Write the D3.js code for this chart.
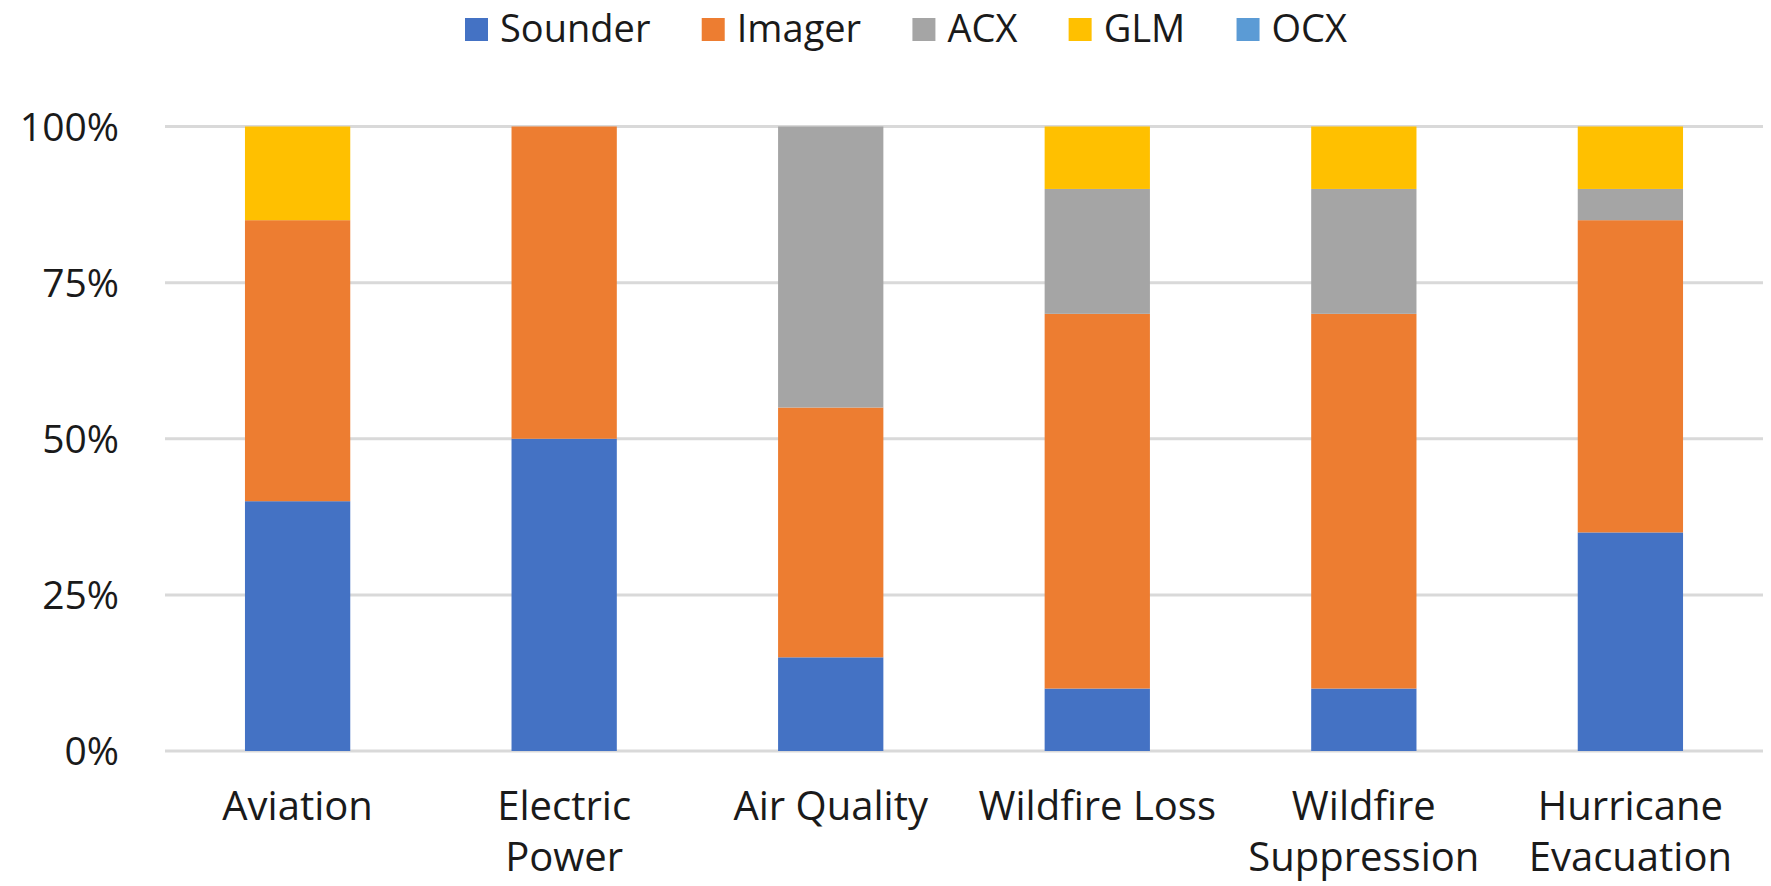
<!DOCTYPE html>
<html>
<head>
<meta charset="utf-8">
<script src="https://cdn.jsdelivr.net/npm/d3@7"></script>
<style>
  body { margin: 0; background: #fff; }
  text { font-family: "Open Sans", sans-serif; fill: #1a1a1a; }
</style>
</head>
<body>
<script>
var categories = [["Aviation"], ["Electric", "Power"], ["Air Quality"], ["Wildfire Loss"], ["Wildfire", "Suppression"], ["Hurricane", "Evacuation"]]
var seriesNames = ["Sounder", "Imager", "ACX", "GLM", "OCX"]
var colors = ["#4472C4", "#ED7D31", "#A5A5A5", "#FFC000", "#5B9BD5"]

var sounder = [40, 50, 15, 10, 10, 35]
var imager  = [45, 50, 40, 60, 60, 50]
var acx     = [0, 0, 45, 20, 20, 5]
var glm     = [15, 0, 0, 10, 10, 10]
var ocx     = [0, 0, 0, 0, 0, 0]
var yTicks = [0, 25, 50, 75, 100]

var width = 1771, height = 886
var margin = {left: 165, right: 8, top: 126.5, bottom: 135}

var svg = d3.select("body").append("svg")
  .attr('width', width)
  .attr('height', height)

var rows = categories.map(function(c, i) {
  return {key: i, Sounder: sounder[i], Imager: imager[i], ACX: acx[i], GLM: glm[i], OCX: ocx[i]}
})

var x = d3.scaleBand()
  .domain(d3.range(categories.length))
  .range([margin.left, width - margin.right])
  .paddingInner(0.605)
  .paddingOuter(0.3)

var y = d3.scaleLinear()
  .domain([0, 100])
  .range([height - margin.bottom, margin.top])

var color = d3.scaleOrdinal().domain(seriesNames).range(colors)

// gridlines
svg.append("g").selectAll("line")
  .data(yTicks)
  .enter().append("line")
  .attr('x1', margin.left)
  .attr('x2', width - margin.right)
  .attr('y1', function(d) { return y(d) })
  .attr('y2', function(d) { return y(d) })
  .attr('stroke', '#d9d9d9')
  .attr('stroke-width', 3)

// y labels
var yAxis = d3.axisLeft(y).tickValues(yTicks).tickFormat(function(d) { return d + "%" }).tickSize(0).tickPadding(0)
var yg = svg.append("g")
  .attr('transform', 'translate(119,0)')
  .call(yAxis)
yg.select(".domain").remove()
yg.selectAll("text")
  .attr('font-size', 39)
  .attr('font-family', '"Open Sans", sans-serif')
  .attr('fill', '#1a1a1a')
  .attr('dy', '0.35em')

// stacked bars
var stack = d3.stack().keys(seriesNames)
var layers = stack(rows)

svg.append("g").selectAll("g")
  .data(layers)
  .enter().append("g")
  .attr('fill', function(d) { return color(d.key) })
  .selectAll("rect")
  .data(function(d) { return d.filter(function(s) { return s[1] > s[0] }) })
  .enter().append("rect")
  .attr('x', function(d) { return x(d.data.key) })
  .attr('width', x.bandwidth())
  .attr('y', function(d) { return y(d[1]) })
  .attr('height', function(d) { return y(d[0]) - y(d[1]) })

// x labels
var xl = svg.append("g").selectAll("text")
  .data(categories)
  .enter().append("text")
  .attr('text-anchor', 'middle')
  .attr('font-size', 40)
  .attr('x', function(d, i) { return x(i) + x.bandwidth() / 2 })
  .attr('y', 820)

xl.selectAll("tspan")
  .data(function(d) { return d })
  .enter().append("tspan")
  .attr('x', function() { return d3.select(this.parentNode).attr('x') })
  .attr('dy', function(d, i) { return i === 0 ? 0 : 51 })
  .text(function(d) { return d })

// legend: spread items so the row spans the same width as the original
var legend = svg.append("g")
var legendLeft = 465, legendRight = 1347
var items = seriesNames.map(function(name, i) {
  var item = legend.append("g")
  item.append("rect")
    .attr('x', 0)
    .attr('y', 18)
    .attr('width', 23)
    .attr('height', 23)
    .attr('fill', colors[i])
  var t = item.append("text")
    .attr('x', 35)
    .attr('y', 42)
    .attr('font-size', 38)
    .text(name)
  return {g: item, w: 35 + t.node().getComputedTextLength()}
})
var totalW = d3.sum(items, function(d) { return d.w })
var gap = (legendRight - legendLeft - totalW) / (items.length - 1)
var lx = legendLeft
items.forEach(function(d) {
  d.g.attr('transform', 'translate(' + lx + ',0)')
  lx += d.w + gap
})
</script>
</body>
</html>
